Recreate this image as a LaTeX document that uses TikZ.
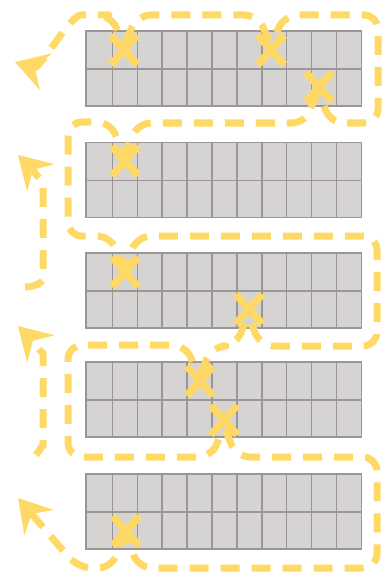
\documentclass[tikz,border=0pt]{standalone}
\usepackage{tikz}
\usetikzlibrary{arrows.meta, shapes.misc}
\definecolor{pickgold}{HTML}{FFD966}
\definecolor{shelfgray}{HTML}{D6D4D3}
\definecolor{shelfline}{HTML}{9C9595}

\begin{document}
\begin{tikzpicture}[
  x=1pt, y=-1pt,
  >={Stealth[length=32pt, width=38pt, inset=11pt]},
  shelf/.style={fill=shelfgray, draw=shelfline, line width=1.5pt},
  slot/.style={shelfline, line width=1.5pt},
  pick/.style={cross out, draw=pickgold, line width=7.5pt,
               minimum width=19pt, minimum height=22pt, inner sep=0pt},
  route/.style={pickgold, line width=7pt, dash pattern=on 19pt off 12pt,
                rounded corners=14pt, line join=round},
]

\useasboundingbox (0,0) rectangle (387,575);

% shelves, 11 x 2 slots each
\foreach \t in {31,142.5,253,362,474} {
  \draw[shelf] (86,\t) rectangle (361.5,\t+75);
  \draw[slot] (86,\t+38) -- (361.5,\t+38);
  \foreach \k in {1,...,10}
    \draw[slot] (87.5+24.9*\k,\t) -- (87.5+24.9*\k,\t+75);
}

% picked slots
\node[pick] (x1a) at (124,50) {};
\node[pick] (x1b) at (271,50) {};
\node[pick] (x1c) at (319,87) {};
\node[pick] (x2) at (125,161) {};
\node[pick] (x3a) at (125,272) {};
\node[pick] (x3b) at (249,309) {};
\node[pick] (x4a) at (200,381) {};
\node[pick] (x4b) at (224,420) {};
\node[pick] (x5) at (126,531) {};

% picking route
\draw[route, <->] (18,498) -- (78,568) -- (112,568)
  .. controls (125,531) and (125,531) .. (138,568) -- (377,568) -- (377,457)
  -- (236,457) .. controls (224,425) and (224,425) .. (212,457)
  -- (68,457) -- (68,345) -- (186,345)
  .. controls (199,378) and (199,378) .. (212,346) -- (236,346)
  .. controls (248,314) and (248,314) .. (260,346)
  -- (377,346) -- (377,236) -- (137,236)
  .. controls (124,271) and (124,271) .. (111,236)
  -- (68,236) -- (68,122) -- (111,122)
  .. controls (124,159) and (124,159) .. (137,123) -- (306,123)
  .. controls (318,88) and (318,88) .. (330,123)
  -- (378,123) -- (378,15) -- (284,15)
  .. controls (271,46) and (271,46) .. (258,15) -- (137,15)
  .. controls (124,46) and (124,46) .. (111,15)
  -- (95,15) .. controls (70,15) and (40,70) .. (15,62);

% returns
\draw[route, ->] (25,287) .. controls (38,287) and (43,280) .. (43,266)
  -- (43,196) .. controls (43,184) and (34,171) .. (18,155);
\draw[route, ->] (36,455) .. controls (42,447) and (43,443) .. (43,432)
  -- (43,367) .. controls (43,355) and (34,342) .. (18,326);

\end{tikzpicture}
\end{document}
